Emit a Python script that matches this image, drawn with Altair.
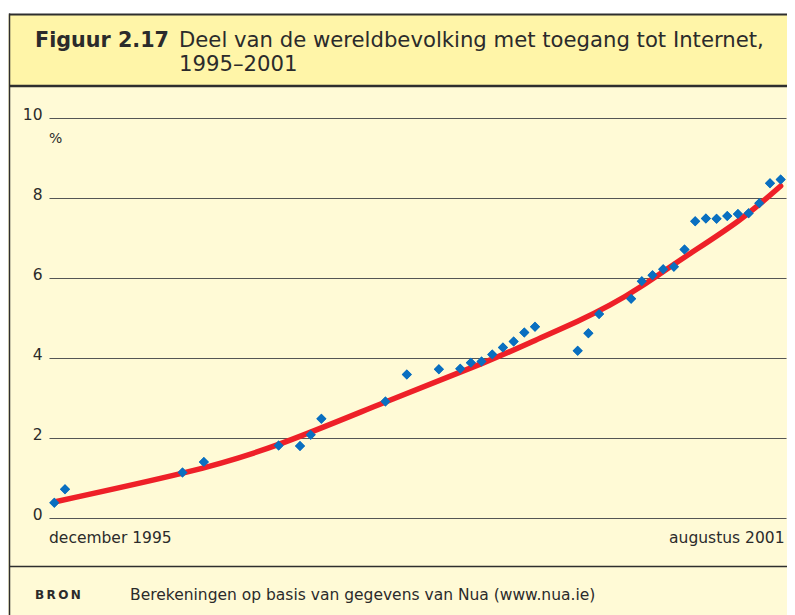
import altair as alt
import pandas as pd

# ---- data ----
months = [0, 1, 12, 14, 21, 23, 24, 25, 31, 33, 36, 38, 39, 40, 41, 42, 43, 44, 45,
          49, 50, 51, 54, 55, 56, 57, 58, 59, 60, 61, 62, 63, 64, 65, 66, 67, 68]
values = [0.38, 0.72, 1.14, 1.40, 1.81, 1.80, 2.08, 2.48, 2.91, 3.59, 3.72, 3.73, 3.88,
          3.91, 4.09, 4.26, 4.41, 4.64, 4.78, 4.18, 4.62, 5.10, 5.48, 5.92, 6.07, 6.22,
          6.28, 6.71, 7.42, 7.49, 7.48, 7.55, 7.60, 7.62, 7.87, 8.37, 8.46]
# trend curve as drawn in the reference (read at several months)
curve_months = [0, 12, 21, 31, 40, 45, 49, 52, 55, 59, 64, 68]
curve_values = [0.40, 1.12, 1.84, 2.90, 3.86, 4.44, 4.92, 5.32, 5.80, 6.52, 7.42, 8.30]
y_ticks = [0, 2, 4, 6, 8, 10]

title_bold = "Figuur 2.17"
title_lines = ["Deel van de wereldbevolking met toegang tot Internet,", "1995\u20132001"]
unit_label = "%"
x_start_label = "december 1995"
x_end_label = "augustus 2001"
source_key = "B\u2009R\u2009O\u2009N"
source_text = "Berekeningen op basis van gegevens van Nua (www.nua.ie)"

df = pd.DataFrame({"month": months, "value": values})
df_curve = pd.DataFrame({"month": curve_months, "value": curve_values})

# ---- styling ----
FONT = "DejaVu Sans"
TXT = "#2b2b2b"
BODY = "#FFFAD6"
BAND = "#FFF5A8"
BORDER = "#2e2e2e"
W, H = 737, 400

one = alt.Data(values=[{}])

xs = alt.Scale(domain=[-0.5, 68.5], nice=False, zero=False)
ys = alt.Scale(domain=[0, 10], nice=False)

points = alt.Chart(df).mark_point(shape="diamond", filled=True, size=100, opacity=1,
                                  color="#0A6FC0").encode(
    x=alt.X("month:Q", scale=xs, axis=None),
    y=alt.Y("value:Q", scale=ys,
            axis=alt.Axis(values=y_ticks, title=None, domain=False, ticks=False,
                          grid=True, gridColor="#555555", gridWidth=1.2,
                          labelFont=FONT, labelFontSize=15.5, labelColor=TXT,
                          labelPadding=7, labelBaseline="alphabetic", labelOffset=1)),
)

trend = alt.Chart(df_curve).mark_line(
    color="#EE2028", strokeWidth=5.5, strokeCap="round", interpolate="natural"
).encode(
    x=alt.X("month:Q", scale=xs, axis=None),
    y=alt.Y("value:Q", scale=ys),
)

# decorative frame (outside the plot area)
white_top = alt.Chart(one).mark_rect(color="white").encode(
    x=alt.value(-41), x2=alt.value(740), y=alt.value(-110), y2=alt.value(-103.5))
band = alt.Chart(one).mark_rect(color=BAND).encode(
    x=alt.value(-40), x2=alt.value(740), y=alt.value(-103.5), y2=alt.value(-32))
top_rule = alt.Chart(one).mark_rule(color=BORDER, strokeWidth=2).encode(
    x=alt.value(-40), x2=alt.value(740), y=alt.value(-103.5))
band_rule = alt.Chart(one).mark_rule(color=BORDER, strokeWidth=2.5).encode(
    x=alt.value(-40), x2=alt.value(740), y=alt.value(-32))
left_rule = alt.Chart(one).mark_rule(color=BORDER, strokeWidth=1.5).encode(
    x=alt.value(-39.5), y=alt.value(-104.5), y2=alt.value(500))
sep_rule = alt.Chart(one).mark_rule(color=BORDER, strokeWidth=1.5).encode(
    x=alt.value(-40), x2=alt.value(740), y=alt.value(448.5))

t_bold = alt.Chart(one).mark_text(font=FONT, fontSize=20.7, fontWeight="bold", color=TXT,
                                  align="left", baseline="alphabetic").encode(
    x=alt.value(-14), y=alt.value(-71.3), text=alt.value(title_bold))
t_main = alt.Chart(one).mark_text(font=FONT, fontSize=21.2, color=TXT, align="left",
                                  baseline="alphabetic", lineHeight=24).encode(
    x=alt.value(130), y=alt.value(-71.3), text=alt.value(title_lines))

t_unit = alt.Chart(one).mark_text(font=FONT, fontSize=14, color=TXT, align="left",
                                  baseline="alphabetic").encode(
    x=alt.value(0), y=alt.value(25), text=alt.value(unit_label))
t_x0 = alt.Chart(one).mark_text(font=FONT, fontSize=15.5, color=TXT, align="left",
                                baseline="alphabetic").encode(
    x=alt.value(0), y=alt.value(425), text=alt.value(x_start_label))
t_x1 = alt.Chart(one).mark_text(font=FONT, fontSize=15.5, color=TXT, align="right",
                                baseline="alphabetic").encode(
    x=alt.value(735.5), y=alt.value(425), text=alt.value(x_end_label))
t_src_k = alt.Chart(one).mark_text(font=FONT, fontSize=12, fontWeight="bold", color=TXT,
                                   align="left", baseline="alphabetic").encode(
    x=alt.value(-14), y=alt.value(480.5), text=alt.value(source_key))
t_src = alt.Chart(one).mark_text(font=FONT, fontSize=15.5, color=TXT, align="left",
                                 baseline="alphabetic").encode(
    x=alt.value(81), y=alt.value(481.5), text=alt.value(source_text))

chart = alt.layer(
    points, white_top, band, top_rule, band_rule, left_rule, sep_rule,
    t_bold, t_main, t_unit, t_x0, t_x1, t_src_k, t_src, trend, points,
).properties(
    width=W, height=H,
    autosize=alt.AutoSizeParams(type="none"),
    padding={"left": 41, "top": 110, "right": 1, "bottom": 97},
    background=BODY,
).configure_view(stroke=None)

chart.save("out.html", embed_options={"renderer": "svg", "actions": False})
